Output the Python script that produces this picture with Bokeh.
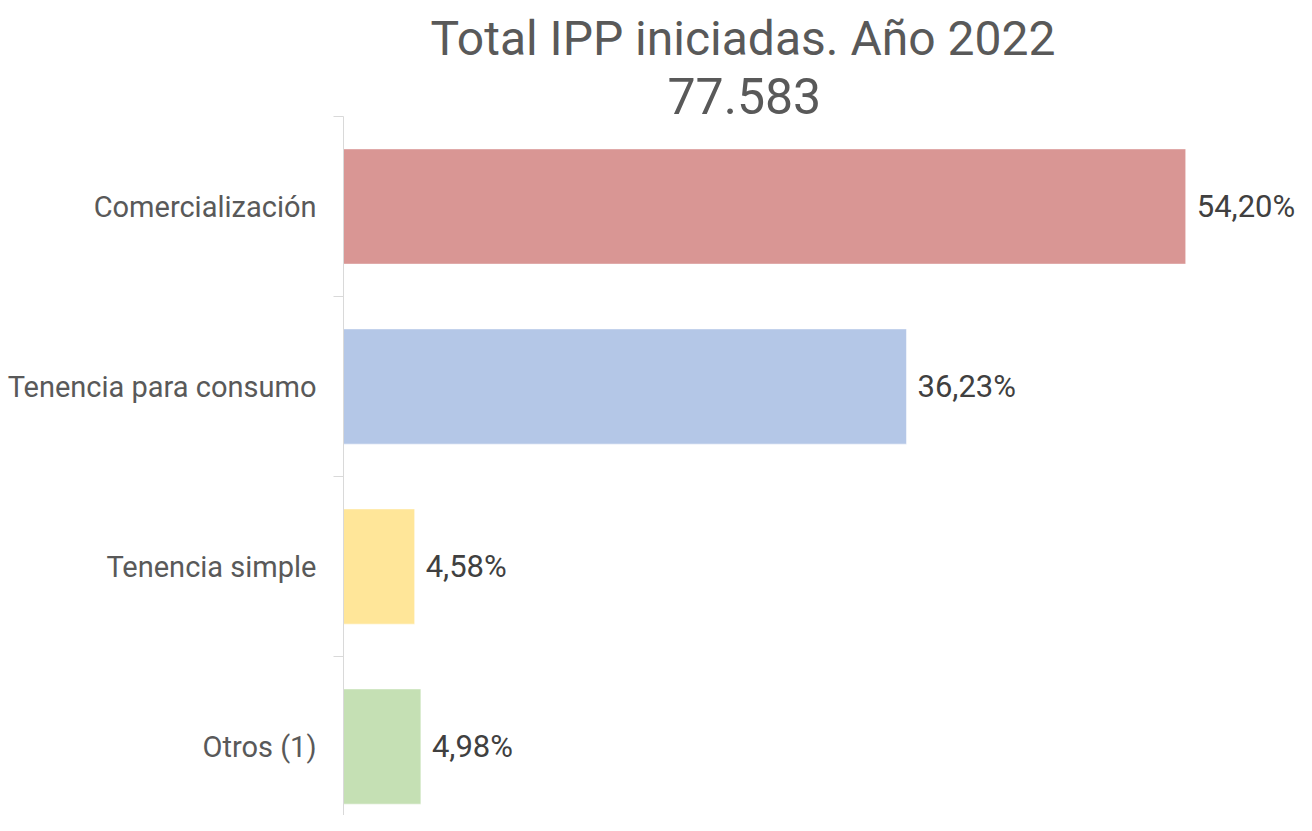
from bokeh.plotting import figure
from bokeh.models import Range1d, FixedTicker, Title, ColumnDataSource
from bokeh.core.properties import value
from bokeh.embed import file_html
from bokeh.resources import INLINE

categories = ["Comercialización", "Tenencia para consumo", "Tenencia simple", "Otros (1)"]
percentages = [54.20, 36.23, 4.58, 4.98]
colors = ["#D99694", "#B4C7E7", "#FFE699", "#C5E0B4"]
title_line1 = "Total IPP iniciadas. Año 2022"
title_line2 = "77.583"

positions = [len(categories) - 1 - i for i in range(len(categories))]
labels = [f"{v:.2f}".replace(".", ",") + "%" for v in percentages]

src = ColumnDataSource(dict(y=positions, v=percentages, c=colors, lab=labels))

FONT = "Roboto"

p = figure(width=1296, height=815, output_backend="svg", toolbar_location=None,
           x_range=Range1d(0, 61.33), y_range=Range1d(-0.383, 3.5),
           min_border_left=343, min_border_right=0, min_border_bottom=0, min_border_top=116,
           title=None)
p.outline_line_color = None
p.background_fill_color = "white"
p.border_fill_color = "white"
p.xgrid.visible = False
p.ygrid.visible = False
p.xaxis.visible = False

p.hbar(y="y", right="v", left=0, height=0.64, color="c", line_color="white",
       line_alpha=0.5, line_width=1, source=src)
p.text(x="v", y="y", text="lab", x_offset=11, text_baseline="middle", text_align="left",
       text_font=value(FONT), text_font_size="31px", text_color="#404040", source=src)

yax = p.yaxis[0]
yax.ticker = FixedTicker(ticks=positions, minor_ticks=[0.5, 1.5, 2.5, 3.5])
yax.major_label_overrides = {pos: cat for pos, cat in zip(positions, categories)}
yax.axis_line_color = "#d9d9d9"
yax.axis_line_width = 1
yax.major_tick_out = 0
yax.major_tick_in = 0
yax.minor_tick_out = 10
yax.minor_tick_in = 0
yax.minor_tick_line_color = "#d9d9d9"
yax.major_label_standoff = 17
yax.major_label_text_font = FONT
yax.major_label_text_font_size = "29px"
yax.major_label_text_color = "#595959"

t2 = Title(text=title_line2, align="left", offset=324, text_font=FONT,
           text_font_size="50px", text_font_style="normal", text_color="#595959", standoff=5)
t1 = Title(text=title_line1, align="left", offset=87, text_font=FONT,
           text_font_size="48px", text_font_style="normal", text_color="#595959", standoff=13)
p.add_layout(t2, "above")
p.add_layout(t1, "above")

open("out.html", "w").write(file_html(p, INLINE))
